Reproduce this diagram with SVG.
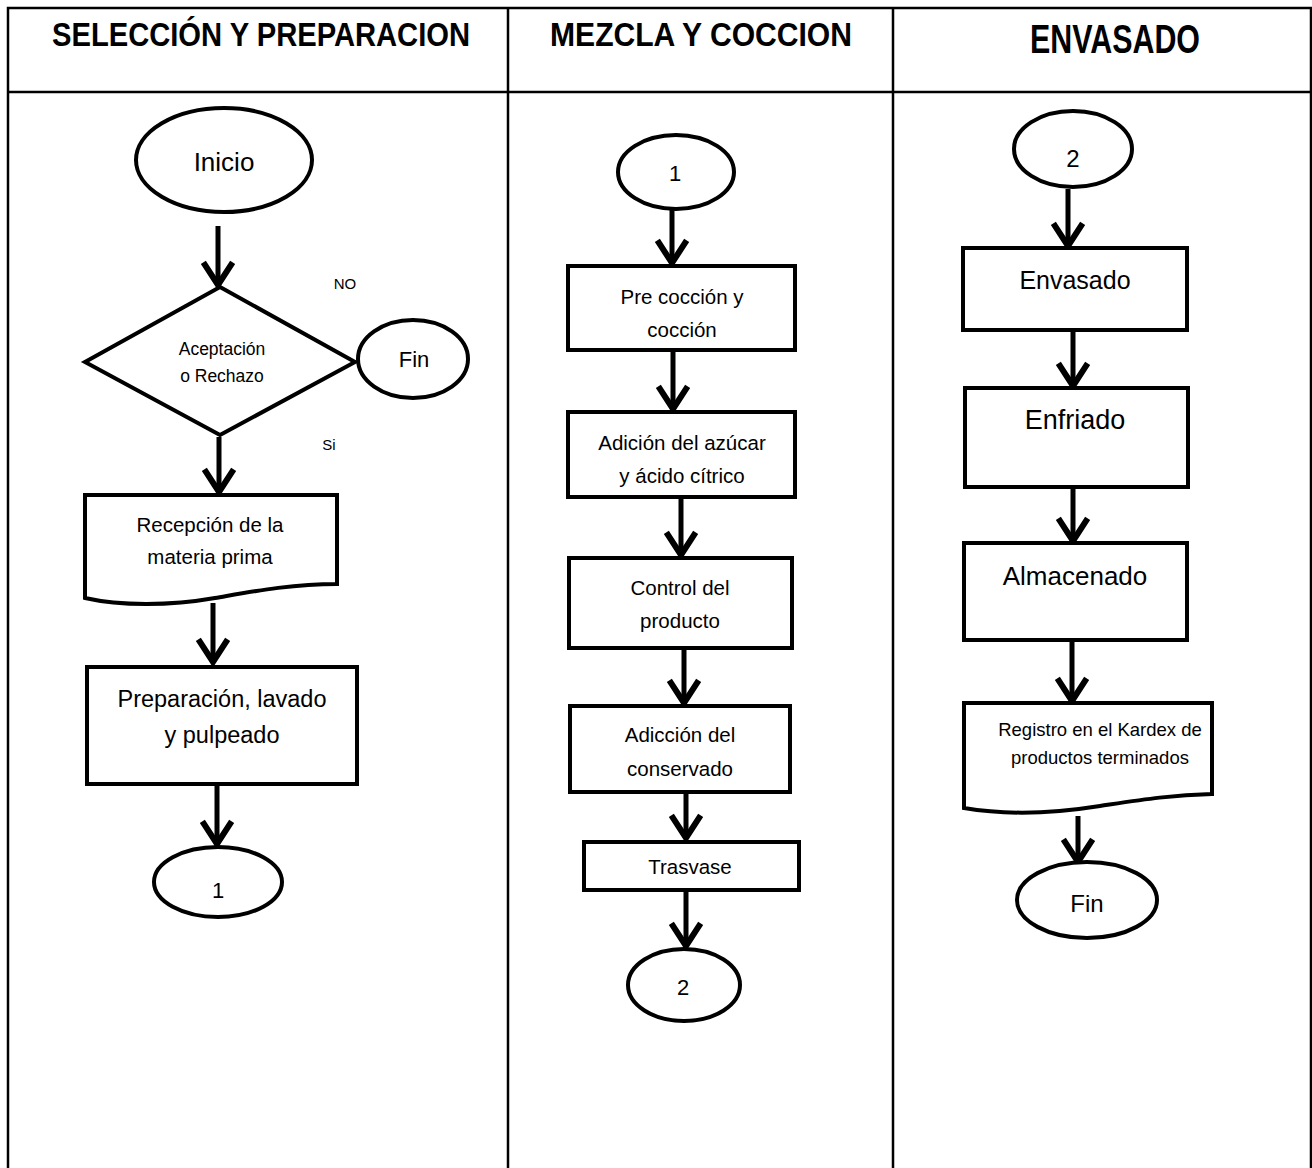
<svg xmlns="http://www.w3.org/2000/svg" width="1312" height="1168" viewBox="0 0 1312 1168">
<style>
.grid{stroke:#000;stroke-width:2.5;fill:none}
.hd{font-family:"Liberation Sans",Arial,sans-serif;font-weight:bold;fill:#000;text-anchor:middle}
.sh{fill:#fff;stroke:#000;stroke-width:4;stroke-linejoin:miter}
.t{font-family:"Liberation Sans",Arial,sans-serif;fill:#000;text-anchor:middle}
.cn line{stroke:#000;stroke-width:5}
</style>
<defs>
<marker id="ah" markerUnits="userSpaceOnUse" markerWidth="40" markerHeight="40" refX="0" refY="0" viewBox="-20 -15 24 30" orient="auto">
<path d="M-17,-11 L0,0 L-17,11" fill="none" stroke="#000" stroke-width="4.5"/>
</marker>
</defs>
<rect width="1312" height="1168" fill="#fff"/>
<g id="table">
<path class="grid" d="M8,1168 V8 H1311 V1168 M8,92 H1311 M508,8 V1168 M893,8 V1168"/>
<text class="hd" x="261" y="46" font-size="33" textLength="418" lengthAdjust="spacingAndGlyphs">SELECCIÓN Y PREPARACION</text>
<text class="hd" x="701" y="46" font-size="33" textLength="302" lengthAdjust="spacingAndGlyphs">MEZCLA Y COCCION</text>
<text class="hd" x="1115" y="53" font-size="40" textLength="170" lengthAdjust="spacingAndGlyphs">ENVASADO</text>
</g>
<g class="cn" id="connectors">
<line x1="218" y1="226" x2="218" y2="285" marker-end="url(#ah)"/>
<line x1="219" y1="437" x2="219" y2="492" marker-end="url(#ah)"/>
<line x1="213" y1="603" x2="213" y2="662" marker-end="url(#ah)"/>
<line x1="217" y1="786" x2="217" y2="844" marker-end="url(#ah)"/>
<line x1="672" y1="210" x2="672" y2="263" marker-end="url(#ah)"/>
<line x1="673" y1="352" x2="673" y2="409" marker-end="url(#ah)"/>
<line x1="681" y1="499" x2="681" y2="555" marker-end="url(#ah)"/>
<line x1="684" y1="650" x2="684" y2="703" marker-end="url(#ah)"/>
<line x1="686" y1="794" x2="686" y2="838" marker-end="url(#ah)"/>
<line x1="686" y1="892" x2="686" y2="946" marker-end="url(#ah)"/>
<line x1="1068" y1="189" x2="1068" y2="246" marker-end="url(#ah)"/>
<line x1="1073" y1="332" x2="1073" y2="386" marker-end="url(#ah)"/>
<line x1="1073" y1="489" x2="1073" y2="541" marker-end="url(#ah)"/>
<line x1="1072" y1="642" x2="1072" y2="701" marker-end="url(#ah)"/>
<line x1="1078" y1="816" x2="1078" y2="862" marker-end="url(#ah)"/>
</g>
<g id="inicio"><ellipse class="sh" cx="224" cy="160" rx="88" ry="52"/><text class="t" x="224" y="171" font-size="26">Inicio</text></g>
<g id="decision"><path class="sh" d="M220,287 L355,362 L220,435 L85,362 Z"/><text class="t" x="222" y="355" font-size="17.5">Aceptación</text><text class="t" x="222" y="382" font-size="17.5">o Rechazo</text></g>
<g id="lbl-no"><text class="t" x="345" y="289" font-size="15">NO</text></g>
<g id="lbl-si"><text class="t" x="329" y="450" font-size="15">Si</text></g>
<g id="fin1"><ellipse class="sh" cx="413" cy="359" rx="55" ry="39"/><text class="t" x="414" y="367" font-size="22">Fin</text></g>
<g id="recepcion"><path class="sh" d="M85,495 H337 V584 C290,584 250,592 215,598 C170,606 120,606 85,598 Z"/><text class="t" x="210" y="532" font-size="20.5">Recepción de la</text><text class="t" x="210" y="564" font-size="20.5">materia prima</text></g>
<g id="preparacion"><rect class="sh" x="87" y="667" width="270" height="117"/><text class="t" x="222" y="707" font-size="23.5">Preparación, lavado</text><text class="t" x="222" y="743" font-size="23.5">y pulpeado</text></g>
<g id="con1a"><ellipse class="sh" cx="218" cy="882" rx="64" ry="35"/><text class="t" x="218" y="898" font-size="22">1</text></g>
<g id="con1b"><ellipse class="sh" cx="676" cy="172" rx="58" ry="37"/><text class="t" x="675" y="181" font-size="22">1</text></g>
<g id="precoccion"><rect class="sh" x="568" y="266" width="227" height="84"/><text class="t" x="682" y="304" font-size="20.5">Pre cocción y</text><text class="t" x="682" y="337" font-size="20.5">cocción</text></g>
<g id="adicion"><rect class="sh" x="568" y="412" width="227" height="85"/><text class="t" x="682" y="450" font-size="20.5">Adición del azúcar</text><text class="t" x="682" y="483" font-size="20.5">y ácido cítrico</text></g>
<g id="control"><rect class="sh" x="569" y="558" width="223" height="90"/><text class="t" x="680" y="595" font-size="20.5">Control del</text><text class="t" x="680" y="628" font-size="20.5">producto</text></g>
<g id="conservado"><rect class="sh" x="570" y="706" width="220" height="86"/><text class="t" x="680" y="742" font-size="20.5">Adicción del</text><text class="t" x="680" y="776" font-size="20.5">conservado</text></g>
<g id="trasvase"><rect class="sh" x="584" y="842" width="215" height="48"/><text class="t" x="690" y="874" font-size="20.5">Trasvase</text></g>
<g id="con2a"><ellipse class="sh" cx="684" cy="985" rx="56" ry="36"/><text class="t" x="683" y="995" font-size="22">2</text></g>
<g id="con2b"><ellipse class="sh" cx="1073" cy="149" rx="59" ry="38"/><text class="t" x="1073" y="167" font-size="24">2</text></g>
<g id="envasado"><rect class="sh" x="963" y="248" width="224" height="82"/><text class="t" x="1075" y="289" font-size="25">Envasado</text></g>
<g id="enfriado"><rect class="sh" x="965" y="388" width="223" height="99"/><text class="t" x="1075" y="429" font-size="27">Enfriado</text></g>
<g id="almacenado"><rect class="sh" x="964" y="543" width="223" height="97"/><text class="t" x="1075" y="585" font-size="26">Almacenado</text></g>
<g id="registro"><path class="sh" d="M964,703 H1212 V794 C1170,795 1140,800 1100,806 C1050,814 1005,815 964,808 Z"/><text class="t" x="1100" y="736" font-size="18.5">Registro en el Kardex de</text><text class="t" x="1100" y="764" font-size="18.5">productos terminados</text></g>
<g id="fin2"><ellipse class="sh" cx="1087" cy="900" rx="70" ry="38"/><text class="t" x="1087" y="912" font-size="24">Fin</text></g>
</svg>
